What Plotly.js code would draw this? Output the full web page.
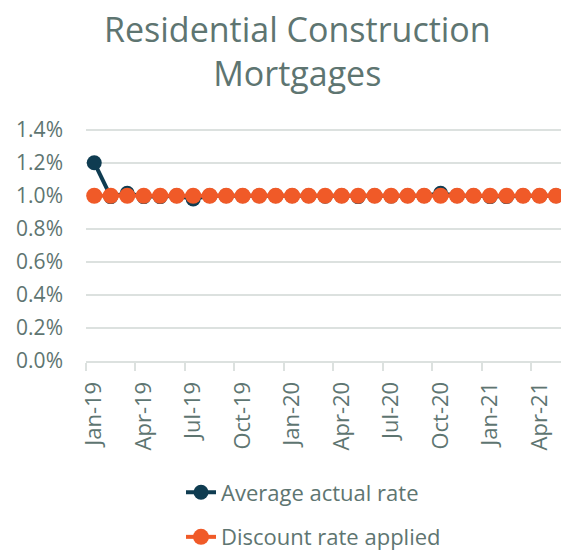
<!DOCTYPE html>
<html>
<head>
<meta charset="utf-8">
<script src="https://cdn.plot.ly/plotly-3.0.1.min.js"></script>
<style>html,body{margin:0;padding:0;overflow:hidden;background:#fff;}</style>
</head>
<body>
<div id="chart" style="width:561px;height:554px;"></div>
<script>
const months = ["Jan-19","Feb-19","Mar-19","Apr-19","May-19","Jun-19","Jul-19","Aug-19","Sep-19","Oct-19","Nov-19","Dec-19",
  "Jan-20","Feb-20","Mar-20","Apr-20","May-20","Jun-20","Jul-20","Aug-20","Sep-20","Oct-20","Nov-20","Dec-20",
  "Jan-21","Feb-21","Mar-21","Apr-21","May-21"];
const averageActualRate = [0.0120,0.00995,0.01015,0.00995,0.00995,0.0100,0.0098,0.0100,0.0100,0.0100,0.0100,0.0100,
  0.0100,0.0100,0.00997,0.0100,0.00995,0.0100,0.00998,0.0100,0.0100,0.01015,0.0100,0.0100,
  0.00995,0.00995,0.0100,0.0100,0.0100];
const discountRateApplied = [0.0100,0.0100,0.0100,0.0100,0.0100,0.0100,0.0100,0.0100,0.0100,0.0100,0.0100,0.0100,
  0.0100,0.0100,0.0100,0.0100,0.0100,0.0100,0.0100,0.0100,0.0100,0.0100,0.0100,0.0100,
  0.0100,0.0100,0.0100,0.0100,0.0100];

const textColor = '#5e7571';
const gridColor = '#dce1df';
const fontFam = '"Open Sans", "Noto Sans", sans-serif';

const traces = [
  {x: months, y: averageActualRate, name: 'Average actual rate', type: 'scatter', mode: 'lines+markers',
   legendgroup: 'a',
   line: {color: '#0f3c51', width: 4}, marker: {color: '#0f3c51', size: 15}, cliponaxis: true},
  {x: months, y: discountRateApplied, name: 'Discount rate applied', type: 'scatter', mode: 'lines+markers',
   legendgroup: 'b',
   line: {color: '#f05a28', width: 4}, marker: {color: '#f05a28', size: 16}, cliponaxis: true}
];

const layout = {
  width: 561, height: 554,
  margin: {l: 86, r: 0, t: 128, b: 193, autoexpand: false},
  paper_bgcolor: '#fff', plot_bgcolor: '#fff',
  font: {family: fontFam, color: textColor, size: 20},
  title: {text: 'Residential Construction<br>Mortgages', x: 0.53, xanchor: 'center', y: 0.925, yanchor: 'top',
          font: {family: fontFam, size: 34, color: textColor}},
  showlegend: true,
  legend: {orientation: 'v', x: 0.2, xanchor: 'left', yref: 'container', y: 0.149, yanchor: 'top',
           font: {family: fontFam, size: 22, color: textColor}, tracegroupgap: 13, itemwidth: 30,
           traceorder: 'grouped'},
  xaxis: {type: 'category', range: [-0.5, 28.3], tickmode: 'linear', tick0: 0, dtick: 3,
          tickson: 'boundaries', ticks: 'outside', ticklen: 8, tickcolor: gridColor, tickwidth: 2,
          showline: true, linecolor: gridColor, linewidth: 2, showgrid: false,
          tickangle: -90, ticklabelstandoff: 10, tickfont: {family: fontFam, size: 22, color: textColor},
          fixedrange: true},
  yaxis: {range: [0, 0.0141], tickmode: 'array', tickvals: [0,0.002,0.004,0.006,0.008,0.010,0.012,0.014],
          tickformat: '.1%', showgrid: true, gridcolor: gridColor, gridwidth: 2, zeroline: false,
          showline: false, ticks: '', ticklabelstandoff: 22,
          tickfont: {family: fontFam, size: 21, color: textColor}, fixedrange: true}
};

Plotly.newPlot('chart', traces, layout, {displayModeBar: false, staticPlot: true});
</script>
</body>
</html>
